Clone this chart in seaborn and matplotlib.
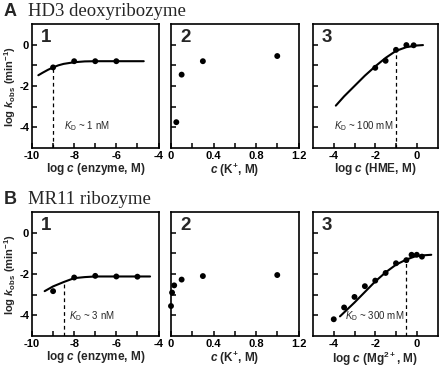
import matplotlib
matplotlib.use("Agg")
import matplotlib.pyplot as plt
from matplotlib.ticker import FixedLocator, FixedFormatter
import seaborn as sns

# ---- data ----
# A: HD3 deoxyribozyme
a1_x = [-9, -8, -7, -6]
a1_y = [-1.1, -0.8, -0.8, -0.8]
a1_fit_x = [-9.7, -9.5, -9.25, -9, -8.75, -8.5, -8, -7.5, -7, -6, -4.7]
a1_fit_y = [-1.48, -1.36, -1.22, -1.1, -1.0, -0.93, -0.85, -0.81, -0.8, -0.8, -0.8]

a2_x = [0.05, 0.1, 0.3, 1.0]
a2_y = [-3.75, -1.45, -0.8, -0.55]

a3_x = [-2, -1.5, -1, -0.5, -0.15]
a3_y = [-1.12, -0.78, -0.25, -0.02, -0.03]
a3_fit_x = [-3.9, -3.5, -3, -2.5, -2, -1.5, -1, -0.5, 0, 0.3]
a3_fit_y = [-2.95, -2.5, -2.0, -1.5, -1.05, -0.64, -0.3, -0.12, -0.04, -0.02]

# B: MR11 ribozyme
b1_x = [-9, -8, -7, -6, -5]
b1_y = [-2.83, -2.17, -2.09, -2.12, -2.13]
b1_fit_x = [-9.4, -9, -8.5, -8, -7.5, -7, -6, -4.4]
b1_fit_y = [-2.83, -2.6, -2.39, -2.2, -2.15, -2.12, -2.12, -2.12]

b2_x = [0.0, 0.01, 0.03, 0.1, 0.3, 1.0]
b2_y = [-3.55, -2.9, -2.55, -2.27, -2.1, -2.05]

b3_x = [-4, -3.5, -3, -2.5, -2, -1.5, -1, -0.5, -0.25, 0, 0.25]
b3_y = [-4.19, -3.62, -3.11, -2.59, -2.32, -1.95, -1.48, -1.33, -1.07, -1.07, -1.16]
b3_fit_x = [-3.7, -3, -2.5, -2, -1.5, -1, -0.5, 0, 0.7]
b3_fit_y = [-4.05, -3.38, -2.87, -2.36, -1.92, -1.55, -1.3, -1.12, -1.07]

# (log KD, kobs at KD, label)
kd_a1 = (-9, -1.1, "1 nM")
kd_a3 = (-1, -0.25, "100 mM")
kd_b1 = (-8.5, -2.45, "3 nM")
kd_b3 = (-0.5, -1.3, "300 mM")

sns.set_style("ticks")
plt.rcParams['font.family'] = ['Liberation Sans', 'DejaVu Sans']
plt.rcParams['axes.unicode_minus'] = False
plt.rcParams['mathtext.fontset'] = 'custom'
plt.rcParams['mathtext.rm'] = 'Liberation Sans:bold'
plt.rcParams['mathtext.it'] = 'Liberation Sans:italic:bold'
plt.rcParams['mathtext.bf'] = 'Liberation Sans:bold'
plt.rcParams['mathtext.sf'] = 'Liberation Sans:italic'
plt.rcParams['mathtext.tt'] = 'Liberation Sans'

fig = plt.figure(figsize=(4.4, 3.68), dpi=100)

W, H = 440.0, 368.0
def box(x0, x1, y0, y1):
    return [x0 / W, 1 - y1 / H, (x1 - x0) / W, (y1 - y0) / H]

cols = [(32, 158.5), (171, 298.5), (313, 437.5)]
rows = [(24, 148), (212, 336)]

axes = [[fig.add_axes(box(c[0], c[1], r[0], r[1])) for c in cols] for r in rows]

def style(ax, num):
    ax.set_ylim(-5, 1)
    ax.yaxis.set_major_locator(FixedLocator([-4, -3, -2, -1, 0]))
    for s in ax.spines.values():
        s.set_linewidth(1.2)
        s.set_color('black')
    ax.tick_params(direction='in', length=3.5, width=1.1, labelsize=8, pad=2,
                   colors='black')
    for lab in ax.get_xticklabels() + ax.get_yticklabels():
        lab.set_fontweight('bold')
    ax.text(0.07, 0.96, num, transform=ax.transAxes, ha='left', va='top',
            fontsize=13.5, fontweight='bold')
    ax.set_xlabel('')
    ax.set_ylabel('')

def dots(ax, x, y):
    sns.scatterplot(x=x, y=y, ax=ax, color='black', s=18, edgecolor='none',
                    zorder=3, clip_on=False)

def fit(ax, x, y):
    sns.lineplot(x=x, y=y, ax=ax, color='black', linewidth=1.5, zorder=2)

def kd(ax, k, tx, ty, ha):
    x, y, lab = k
    ax.plot([x, x], [-5, y], color='black', linewidth=0.9, linestyle=(0, (3, 2.5)))
    ax.text(tx, ty, r'$\mathsf{K}_{\mathtt{D}}$ ~ ' + lab, ha=ha, va='center',
            fontsize=7)

xlab1 = r'log $c$ (enzyme, M)'
xlab2 = r'$c$ (K$^{+}$, M)'
ylab = r'log $k_{\mathrm{obs}}$ (min$^{-1}$)'

def enzyme_axis(ax):
    ax.set_xlim(-10, -4)
    ax.xaxis.set_major_locator(FixedLocator(list(range(-10, -3))))
    ax.xaxis.set_major_formatter(FixedFormatter(['-10', '', '-8', '', '-6', '', '-4']))
    ax.yaxis.set_major_formatter(FixedFormatter(['-4', '', '-2', '', '0']))

def k_axis(ax):
    ax.set_xlim(0, 1.2)
    ax.xaxis.set_major_locator(FixedLocator([0, 0.2, 0.4, 0.6, 0.8, 1.0, 1.2]))
    ax.xaxis.set_major_formatter(FixedFormatter(['0', '', '0.4', '', '0.8', '', '1.2']))
    ax.set_yticklabels([])

def log_axis(ax):
    ax.set_xlim(-5, 1)
    ax.xaxis.set_major_locator(FixedLocator([-4, -3, -2, -1, 0]))
    ax.xaxis.set_major_formatter(FixedFormatter(['-4', '', '-2', '', '0']))
    ax.set_yticklabels([])

# ---- row A ----
ax = axes[0][0]
fit(ax, a1_fit_x, a1_fit_y)
dots(ax, a1_x, a1_y)
kd(ax, kd_a1, -8.5, -3.95, 'left')
enzyme_axis(ax)
style(ax, '1')

ax = axes[0][1]
dots(ax, a2_x, a2_y)
k_axis(ax)
style(ax, '2')

ax = axes[0][2]
fit(ax, a3_fit_x, a3_fit_y)
dots(ax, a3_x, a3_y)
kd(ax, kd_a3, -1.15, -3.95, 'right')
log_axis(ax)
style(ax, '3')

# ---- row B ----
ax = axes[1][0]
fit(ax, b1_fit_x, b1_fit_y)
dots(ax, b1_x, b1_y)
kd(ax, kd_b1, -8.25, -4.05, 'left')
enzyme_axis(ax)
style(ax, '1')

ax = axes[1][1]
dots(ax, b2_x, b2_y)
k_axis(ax)
style(ax, '2')

ax = axes[1][2]
fit(ax, b3_fit_x, b3_fit_y)
dots(ax, b3_x, b3_y)
kd(ax, kd_b3, -0.6, -4.05, 'right')
log_axis(ax)
style(ax, '3')

for r, mg in zip(axes, [r'log $c$ (HME, M)', r'log $c$ (Mg$^{2+}$, M)']):
    r[0].set_xlabel(xlab1, fontsize=8.5, fontweight='bold', labelpad=0.5)
    r[1].set_xlabel(xlab2, fontsize=8.5, fontweight='bold', labelpad=0.5)
    r[2].set_xlabel(mg, fontsize=8.5, fontweight='bold', labelpad=0.5)
    r[0].set_ylabel(ylab, fontsize=8, fontweight='bold', labelpad=1)

# panel titles
fig.text(4 / W, 1 - 12 / H, 'A', fontsize=13, fontweight='bold', va='center', ha='left')
fig.text(28 / W, 1 - 12 / H, 'HD3 deoxyribozyme', fontsize=13.5, va='center', ha='left',
         family='Liberation Serif')
fig.text(4 / W, 1 - 199 / H, 'B', fontsize=13, fontweight='bold', va='center', ha='left')
fig.text(28 / W, 1 - 199 / H, 'MR11 ribozyme', fontsize=13.5, va='center', ha='left',
         family='Liberation Serif')

fig.savefig('out.png', dpi=100, facecolor='white')
